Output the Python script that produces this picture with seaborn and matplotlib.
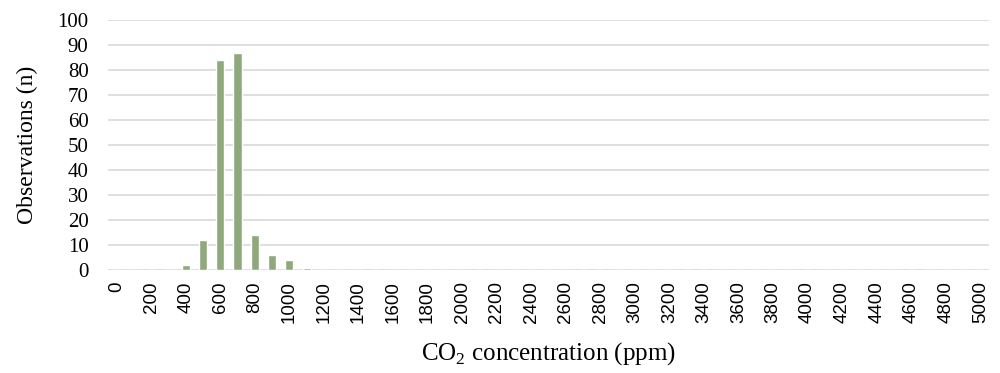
import matplotlib
matplotlib.use("Agg")
import matplotlib.pyplot as plt
import seaborn as sns
import pandas as pd

bins = [0, 100, 200, 300, 400, 500, 600, 700, 800, 900, 1000, 1100, 1200, 1300, 1400,
        1500, 1600, 1700, 1800, 1900, 2000, 2100, 2200, 2300, 2400, 2500, 2600, 2700,
        2800, 2900, 3000, 3100, 3200, 3300, 3400, 3500, 3600, 3700, 3800, 3900, 4000,
        4100, 4200, 4300, 4400, 4500, 4600, 4700, 4800, 4900, 5000]
counts = [0, 0, 0, 0, 2, 12, 84, 87, 14, 6, 4, 1, 0, 0, 0,
          0, 0, 0, 0, 0, 0, 0, 0, 0, 0, 0, 0, 0,
          0, 0, 0, 0, 0, 0, 0, 0, 0, 0, 0, 0, 0,
          0, 0, 0, 0, 0, 0, 0, 0, 0, 0]
y_ticks = [0, 10, 20, 30, 40, 50, 60, 70, 80, 90, 100]

sns.set_theme(style="white")
plt.rcParams['mathtext.fontset'] = 'custom'
plt.rcParams['mathtext.rm'] = 'Liberation Serif'

df = pd.DataFrame({"bin": [str(b) for b in bins], "n": counts})

fig = plt.figure(figsize=(10, 3.73), dpi=100)
ax = fig.add_axes([0.108, 0.276, 0.881, 0.670])
sns.barplot(data=df, x="bin", y="n", order=df["bin"], color="#8ea97b",
            saturation=1, width=0.47, ax=ax, zorder=3)

ax.set_ylim(0, 100)
ax.set_yticks(y_ticks)
ax.set_yticklabels([str(t) for t in y_ticks], family="Liberation Serif", fontsize=15)
ax.yaxis.grid(True, color="#d9d9d9", linewidth=1.2, zorder=0)
ax.set_axisbelow(True)
for s in ax.spines.values():
    s.set_visible(False)
ax.set_xlim(-0.5, len(bins) - 0.5)
ax.set_xticks(range(len(bins)))
ax.set_xticklabels([str(b) if i % 2 == 0 else "" for i, b in enumerate(bins)],
                   rotation=90, family="Liberation Sans", fontsize=13.5)
ax.tick_params(axis="x", length=0, pad=8, colors="black")
ax.tick_params(axis="y", length=0, pad=14, colors="black")
ax.set_xlabel("CO$_2$ concentration (ppm)", family="Liberation Serif", fontsize=18,
              labelpad=12, color="black")
ax.set_ylabel("Observations (n)", family="Liberation Serif", fontsize=17, labelpad=14,
              color="black")

fig.savefig("out.png", dpi=100)
